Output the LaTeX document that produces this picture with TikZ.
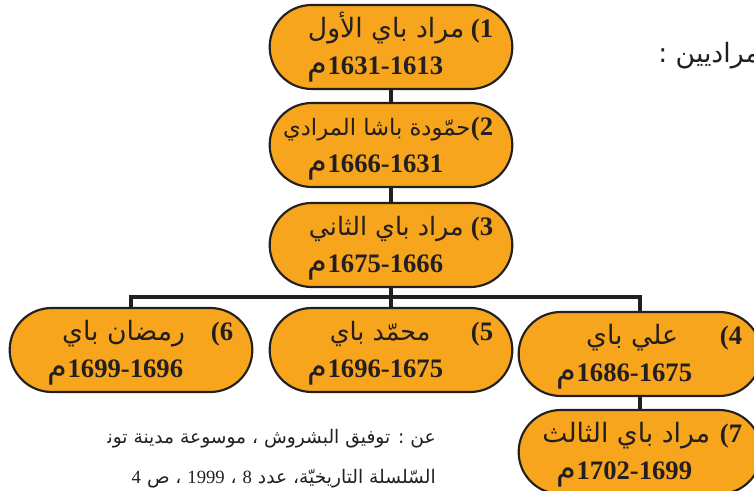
\documentclass[tikz,border=0pt]{standalone}
\usepackage{fontspec}
\usepackage{tikz}
\usetikzlibrary{positioning, calc}
\TeXXeTstate=1
\newfontfamily\arabicfont[Script=Arabic]{DejaVu Sans}
\newfontfamily\numfont{Liberation Serif}
\definecolor{beyfill}{RGB}{246,165,29}
\definecolor{ink}{RGB}{35,31,32}

\newcommand{\reign}[1]{{\arabicfont\fontsize{24}{24}\selectfont م}{\numfont\bfseries #1}}

\begin{document}
\begin{tikzpicture}[x=0.75pt, y=-0.75pt,
    bey/.style={rectangle, draw=ink, line width=1.6pt, fill=beyfill, rounded corners=31.5pt,
      minimum width=182pt, minimum height=63pt, inner sep=0pt},
    link/.style={draw=ink, line width=3.2pt},
    beynum/.style={anchor=base east, inner sep=0pt, text=ink, font=\numfont\bfseries\fontsize{20}{22}\selectfont},
    beyname/.style={inner sep=0pt, text=ink, font=\arabicfont\fontsize{#1}{22}\selectfont},
    beydate/.style={anchor=base east, inner sep=0pt, text=ink, font=\fontsize{20}{22}\selectfont},
    note/.style={anchor=base east, inner sep=0pt, text=ink, font=\arabicfont\fontsize{14}{18}\selectfont}]
  \useasboundingbox (0,0) rectangle (754,491);

  % Beys
  \foreach \k/\cx/\cy/\gap/\fs/\nm/\yrs in {
      1/391/47/4.5pt/20/{مراد باي الأول}/1631-1613,
      2/391/145/0pt/17/{حمّودة باشا المرادي}/1666-1631,
      3/391/245/5pt/19/{مراد باي الثاني}/1675-1666,
      4/640/354/31pt/20/{علي باي}/1686-1675,
      5/391/350/30pt/19/{محمّد باي}/1696-1675,
      6/131/350/19pt/20/{رمضان باي}/1699-1696,
      7/640/452/7pt/20/{مراد باي الثالث}/1702-1699}
  {
    \node[bey] (b\k) at (\cx,\cy) {};
    \node[beynum] (b\k k) at ($(b\k.north east)+(-20,34)$) {(\k};
    \node[beyname=\fs, base left=\gap of b\k k] (b\k n) {\beginR\nm\endR};
    \node[beydate] (b\k d) at ($(b\k.north east)+(-70,71)$) {\reign{\yrs}};
  }

  % Links
  \draw[link] (b1) -- (b2);
  \draw[link] (b2) -- (b3);
  \draw[link] (b3.south) -- ++(0,9) coordinate (bus);
  \draw[link] (b6.north) |- (bus) -| (b4.north);
  \draw[link] (bus) -- (b5.north);
  \draw[link] (b4) -- (b7);

  % Texts
  \node[note, anchor=base west, font=\arabicfont\fontsize{20}{22}\selectfont] (head) at (658,63) {\beginR مراديين :\endR};
  \node[note] (src1) at (436,444) {\beginR عن : توفيق البشروش ، موسوعة مدينة تون^^^^200d\endR};
  \node[note] (src2) at (436,484) {\beginR السّلسلة التاريخيّة، عدد {\numfont 8} ، {\numfont 1999} ، ص {\numfont 4}\endR};
\end{tikzpicture}
\end{document}
